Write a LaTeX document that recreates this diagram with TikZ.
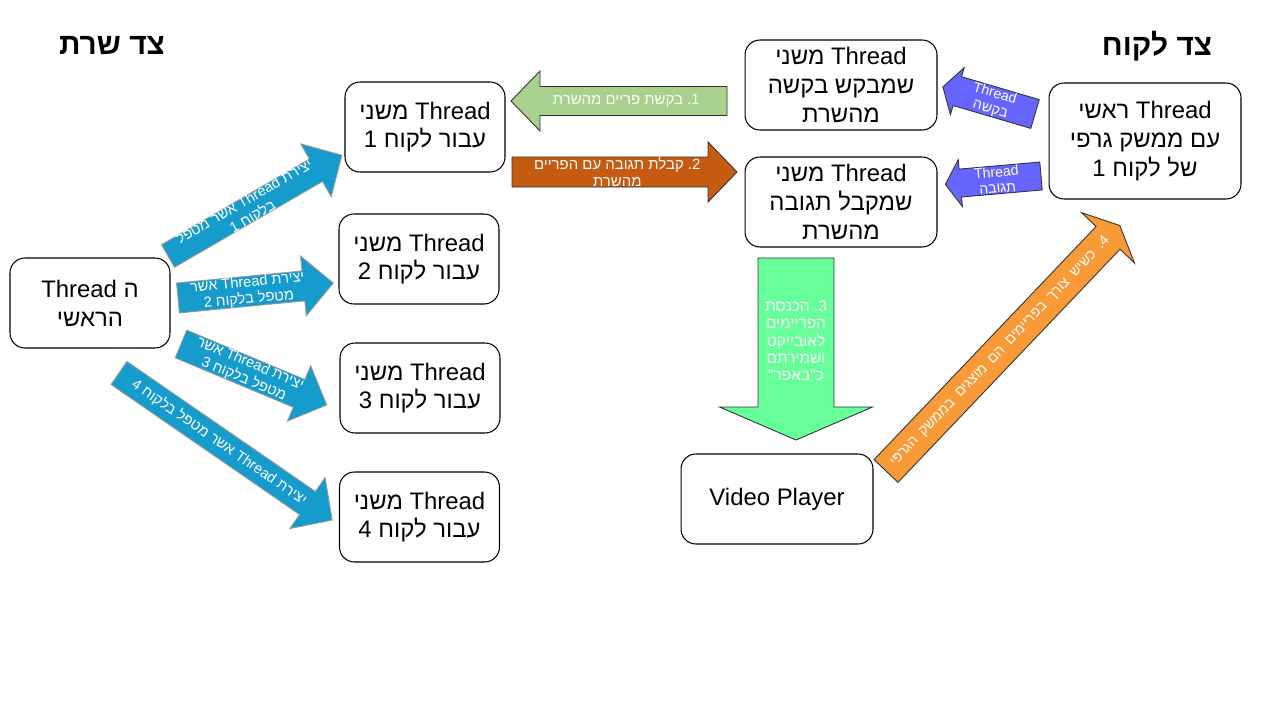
\documentclass[tikz,border=0pt]{standalone}
\usepackage{fontspec}
\setmainfont{Liberation Sans}
\newfontfamily\hebfont[Script=Hebrew]{Liberation Sans}
\TeXXeTstate=1
\newcommand\heb[1]{{\hebfont\beginR #1\endR}}
\usetikzlibrary{calc}

\definecolor{arrowblue}{RGB}{22,155,205}
\definecolor{reqgreen}{RGB}{169,209,142}
\definecolor{respbrown}{RGB}{197,90,17}
\definecolor{buffgreen}{RGB}{102,255,153}
\definecolor{showorange}{RGB}{248,154,56}
\definecolor{threadpurple}{RGB}{102,102,255}

\tikzset{
  % block arrow: length, shaft width, head width, head length (in px)
  pics/blockarrow/.style n args={4}{code={
    \draw[pic actions] (0,-#2/2) -- (#1-#4,-#2/2) -- (#1-#4,-#3/2) -- (#1,0)
      -- (#1-#4,#3/2) -- (#1-#4,#2/2) -- (0,#2/2) -- cycle;
    \coordinate (-mid) at ({(#1-#4)/2+#4/4},0);
  }},
  box/.style={draw, line width=0.6pt, rounded corners=8.5pt, fill=white,
    minimum width=3.2cm, minimum height=1.8cm, align=center, inner sep=2pt,
    font=\fontsize{13.6}{16.4}\selectfont},
  title/.style={font=\fontsize{17}{20}\selectfont\bfseries},
  blue arrow/.style={fill=arrowblue, draw=gray!80, line width=0.5pt},
  dark edge/.style={draw=black!80, line width=0.5pt},
  arrowtext/.style={text=white, align=center, inner sep=0pt,
    font=\fontsize{8.3}{9.6}\selectfont}
}

\begin{document}
\begin{tikzpicture}[x=0.02cm, y=-0.02cm]
  \useasboundingbox (0,0) rectangle (1280,720);
  \fill[white] (0,0) rectangle (1280,720);

  % Titles
  \node[title] (srvtitle) at (112,46) {\heb{צד שרת}};
  \node[title] (clttitle) at (1157,46) {\heb{צד לקוח}};

  % Server side
  \node[box] (main) at (90,303) {Thread \heb{ה}\\\heb{הראשי}};
  \foreach \i/\x/\y in {1/425/127, 2/419/259, 3/420/388, 4/419.5/517}
    \node[box] (c\i) at (\x,\y) {\heb{משני} Thread\\\heb{עבור לקוח \i}};

  % Client side
  \node[box, minimum width=3.84cm] (req) at (841,85)
    {\heb{משני} Thread\\\heb{שמבקש בקשה}\\\heb{מהשרת}};
  \node[box, minimum width=3.84cm] (resp) at (841,202)
    {\heb{משני} Thread\\\heb{שמקבל תגובה}\\\heb{מהשרת}};
  \node[box, minimum width=3.84cm, minimum height=2.32cm] (gui) at (1145,141)
    {\heb{ראשי} Thread\\\heb{עם ממשק גרפי}\\\heb{של לקוח 1}};
  \node[box, minimum width=3.84cm] (vp) at (777,499) {Video Player};

  % Thread creation arrows
  \pic[blue arrow, rotate=30.1] (a1) at (168,256) {blockarrow={201}{26}{61}{30}};
  \node[arrowtext, rotate=30.1] at (a1-mid) {\heb{אשר מטפל} Thread \heb{יצירת}\\\heb{בלקוח 1}};
  \pic[blue arrow, rotate=5.5] (a2) at (178,298) {blockarrow={156}{30}{60}{30}};
  \node[arrowtext, rotate=5.5] at (a2-mid) {\heb{אשר} Thread \heb{יצירת}\\\heb{מטפל בלקוח 2}};
  \pic[blue arrow, rotate=-22.7] (a3) at (181,344) {blockarrow={158}{30}{60}{30}};
  \node[arrowtext, rotate=-22.7] at (a3-mid) {\heb{אשר} Thread \heb{יצירת}\\\heb{מטפל בלקוח 3}};
  \pic[blue arrow, rotate=-34.6] (a4) at (119,373) {blockarrow={259}{28}{62}{30}};
  \node[arrowtext, rotate=-34.6] at (a4-mid) {\heb{אשר מטפל בלקוח 4} Thread \heb{יצירת}};

  % Request / response with the server
  \pic[fill=reqgreen, dark edge, rotate=180] (a5) at (727,101) {blockarrow={216}{29}{60}{29}};
  \node[arrowtext, font=\fontsize{8.5}{10}\selectfont] at (a5-mid) {\heb{בקשת פריים מהשרת} .1};
  \pic[fill=respbrown, dark edge] (a6) at (512,172) {blockarrow={225}{30}{60}{29}};
  \node[arrowtext, font=\fontsize{8.5}{9.2}\selectfont] at (a6-mid)
    {\heb{קבלת תגובה עם הפריים} .2\\\heb{מהשרת}};

  % Buffer
  \pic[fill=buffgreen, dark edge, rotate=-90] (a7) at (796,258) {blockarrow={182}{76}{153}{33}};
  \node[arrowtext, font=\fontsize{8.8}{9.8}\selectfont] at (a7-mid)
    {\heb{הכנסת} .3\\\heb{הפריימים}\\\heb{לאובייקט}\\\heb{ושמירתם}\\\heb{כ"באפר"}};

  % Display in the GUI
  \pic[fill=showorange, dark edge, rotate=46.4] (a8) at (886,471) {blockarrow={339}{33}{73}{17}};
  \node[arrowtext, rotate=46.4, font=\fontsize{8}{9}\selectfont] at (a8-mid)
    {\spaceskip=0.5em\relax\heb{כשיש צורך בפריימים הם מוצגים בממשק הגרפי} .4};

  % Threads started by the GUI thread
  \pic[fill=threadpurple, dark edge, rotate=163.6] (a9) at (1035,114) {blockarrow={96}{30}{49}{15}};
  \node[arrowtext, rotate=-16.4, font=\fontsize{8}{9}\selectfont] at (a9-mid) {Thread\\\heb{בקשה}};
  \pic[fill=threadpurple, dark edge, rotate=185] (a10) at (1041,176) {blockarrow={96}{28}{47}{15}};
  \node[arrowtext, rotate=5, font=\fontsize{8}{9}\selectfont] at (a10-mid) {Thread\\\heb{תגובה}};
\end{tikzpicture}
\end{document}
